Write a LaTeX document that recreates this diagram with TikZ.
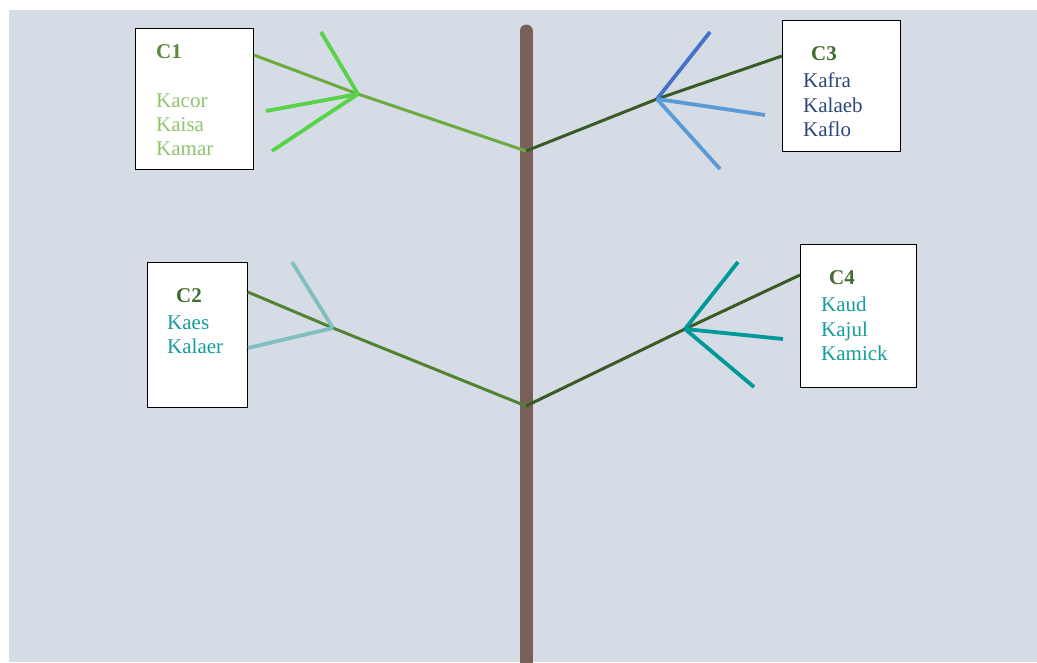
\documentclass[tikz,border=0pt]{standalone}
\usepackage{fontspec}
\setmainfont{Liberation Serif}
\usetikzlibrary{calc}
\definecolor{bg}{HTML}{D5DCE6}
\definecolor{trunkc}{HTML}{7A6059}
\definecolor{brA}{HTML}{6DAA42}
\definecolor{brB}{HTML}{3A5A27}
\definecolor{brC}{HTML}{548235}
\definecolor{twA}{HTML}{58D348}
\definecolor{twB1}{HTML}{4472C4}
\definecolor{twB2}{HTML}{5B9BD5}
\definecolor{twC}{HTML}{80BFBF}
\definecolor{twD}{HTML}{00999A}
\definecolor{ttl}{HTML}{426B2E}
\definecolor{ttlA}{HTML}{5A8A3A}
\definecolor{itA}{HTML}{8EC56E}
\definecolor{itB}{HTML}{2B4679}
\definecolor{itC}{HTML}{139E9B}
\tikzset{
  box/.style={draw=black, fill=white, line width=0.8pt, inner sep=0pt, anchor=north west},
  lbl/.style={anchor=base west, inner sep=0pt, font=\fontsize{21pt}{24pt}\selectfont},
  ttlnode/.style={lbl, font=\fontsize{21pt}{24pt}\selectfont\bfseries},
  branch/.style={line width=3pt},
  twig/.style={line width=3.8pt},
  trunkline/.style={line width=13pt, line cap=round, draw=trunkc}
}
\begin{document}
\begin{tikzpicture}[x=1pt,y=-1pt]
\useasboundingbox (0,0) rectangle (1037,662);
\fill[bg] (9,10) rectangle (1037,662);

% trunk
\coordinate (top) at (526,31);
\coordinate (base) at (526,680);
\coordinate (t1) at (526,151);
\coordinate (t2) at (526,406);
\draw[trunkline] (base) -- (top);

% boxes
\node[box, minimum width=118pt, minimum height=141pt] (c1) at (135,28) {};
\node[box, minimum width=118pt, minimum height=131pt] (c3) at (782,20) {};
\node[box, minimum width=100pt, minimum height=145pt] (c2) at (147,262) {};
\node[box, minimum width=116pt, minimum height=143pt] (c4) at (800,244) {};

% junctions
\coordinate (j1) at (358,94);
\coordinate (j3) at (657,99);
\coordinate (j2) at (333,328);
\coordinate (j4) at (685,329);

% twig ends
\coordinate (e1a) at (321,32);
\coordinate (e1b) at (266,111);
\coordinate (e1c) at (272,151);
\coordinate (e3a) at (710,32);
\coordinate (e3b) at (765,115);
\coordinate (e3c) at (720,169);
\coordinate (e2a) at (292,262);
\coordinate (e2b) at (248,348);
\coordinate (e4a) at (738,262);
\coordinate (e4b) at (783,339);
\coordinate (e4c) at (754,387);

% branches
\draw[branch, brA] (t1) -- (j1) -- ($(c1.north east)+(0,27)$);
\draw[branch, brB] (t1) -- (j3) -- ($(c3.north west)+(0,36)$);
\draw[branch, brC] (t2) -- (j2) -- ($(c2.north east)+(0,30)$);
\draw[branch, brB] (t2) -- (j4) -- ($(c4.north west)+(0,31)$);

% twigs
\draw[twig, twA] (j1) -- (e1a);
\draw[twig, twA] (j1) -- (e1b);
\draw[twig, twA] (j1) -- (e1c);
\draw[twig, twB1] (j3) -- (e3a);
\draw[twig, twB2] (j3) -- (e3b);
\draw[twig, twB2] (j3) -- (e3c);
\draw[twig, twC] (j2) -- (e2a);
\draw[twig, twC] (j2) -- (e2b);
\draw[twig, twD] (j4) -- (e4a);
\draw[twig, twD] (j4) -- (e4b);
\draw[twig, twD] (j4) -- (e4c);

% texts C1
\node[ttlnode, text=ttlA] (c1t) at (156,58) {C1};
\node[lbl, text=itA] (c1i1) at (156,107) {Kacor};
\node[lbl, text=itA] (c1i2) at (156,131) {Kaisa};
\node[lbl, text=itA] (c1i3) at (156,155) {Kamar};
% texts C3
\node[ttlnode, text=ttl] (c3t) at (811,60) {C3};
\node[lbl, text=itB] (c3i1) at (803,87) {Kafra};
\node[lbl, text=itB] (c3i2) at (803,112) {Kalaeb};
\node[lbl, text=itB] (c3i3) at (803,136) {Kaflo};
% texts C2
\node[ttlnode, text=ttl] (c2t) at (176,302) {C2};
\node[lbl, text=itC] (c2i1) at (167,329) {Kaes};
\node[lbl, text=itC] (c2i2) at (167,353) {Kalaer};
% texts C4
\node[ttlnode, text=ttl] (c4t) at (829,284) {C4};
\node[lbl, text=itC] (c4i1) at (821,311) {Kaud};
\node[lbl, text=itC] (c4i2) at (821,336) {Kajul};
\node[lbl, text=itC] (c4i3) at (821,360) {Kamick};
\end{tikzpicture}
\end{document}
